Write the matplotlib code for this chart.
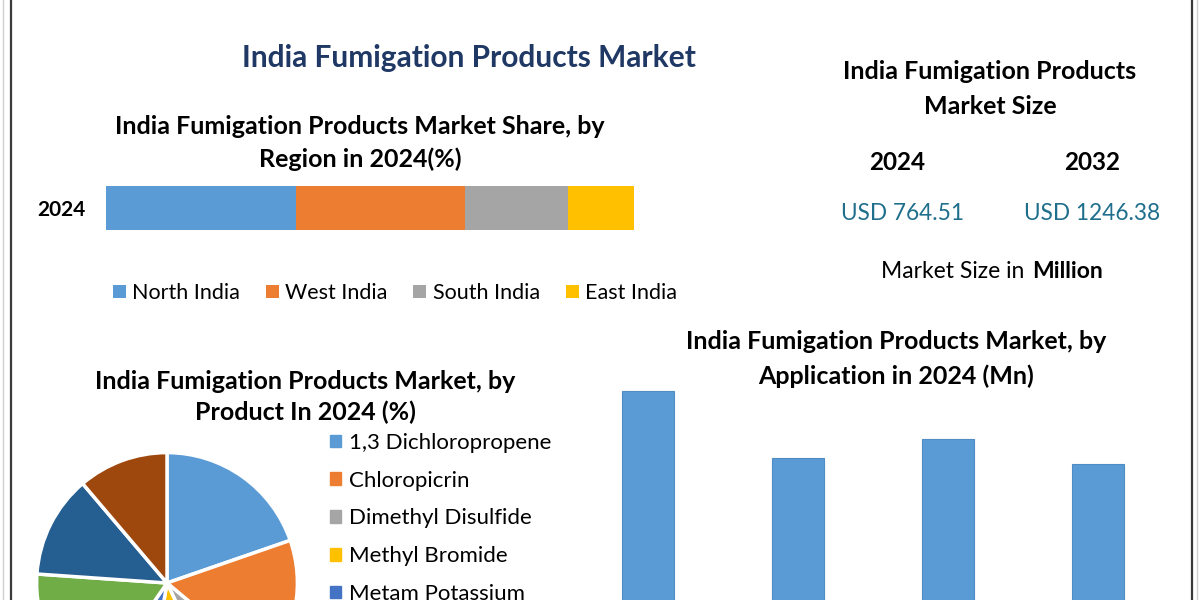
import numpy as np
import matplotlib
matplotlib.use('Agg')
import matplotlib.pyplot as plt
from matplotlib.lines import Line2D
from matplotlib.patches import Patch

plt.rcParams['font.family'] = ['Lato', 'DejaVu Sans']

# ── data ──────────────────────────────────────────────────
regions       = ['North India', 'West India', 'South India', 'East India']
region_share  = [36.0, 32.0, 19.5, 12.5]
region_colors = ['#5B9BD5', '#ED7D31', '#A5A5A5', '#FFC000']

products       = ['1,3 Dichloropropene', 'Chloropicrin', 'Dimethyl Disulfide',
                  'Methyl Bromide', 'Metam Potassium', 'Metam Sodium',
                  'Phosphine', 'Others']
product_share  = [19.7, 16.4, 6.9, 9.7, 6.9, 16.5, 12.7, 11.2]
product_colors = ['#5B9BD5', '#ED7D31', '#A5A5A5', '#FFC000',
                  '#4472C4', '#70AD47', '#255E91', '#9E480E']

apps       = ['App 1', 'App 2', 'App 3', 'App 4']
app_values = [235, 187, 201, 183]

years       = ['2024', '2032']
market_size = ['USD 764.51', 'USD 1246.38']

W, H = 1200, 600
fig = plt.figure(figsize=(12, 6), dpi=100)
fig.patch.set_facecolor('white')

def fx(x): return x / W
def fy(y): return 1 - y / H

# ── frame lines ───────────────────────────────────────────
for x, c, lw in [(11, '#3a3a3a', 1.6), (1192, '#3a3a3a', 1.6),
                 (3, '#d0d0d0', 1.0), (1197, '#d0d0d0', 1.0)]:
    fig.add_artist(Line2D([fx(x), fx(x)], [0, 1], color=c, lw=lw,
                          transform=fig.transFigure))

# ── titles ────────────────────────────────────────────────
fig.text(fx(469), fy(58), 'India Fumigation Products Market', ha='center',
         va='center', fontsize=21.5, fontweight='bold', color='#1F3864')
fig.text(fx(360), fy(143), 'India Fumigation Products Market Share, by\nRegion in 2024(%)',
         ha='center', va='center', fontsize=18, fontweight='bold',
         color='black', linespacing=1.45)

# ── stacked region bar ────────────────────────────────────
ax1 = fig.add_axes([fx(106), fy(246), 528 / W, 76 / H])
left = 0
for name, v, c in zip(regions, region_share, region_colors):
    ax1.barh(0, v, left=left, height=44 / 76, color=c, label=name)
    left += v
ax1.set_xlim(0, sum(region_share))
ax1.set_ylim(-0.5, 0.5)
ax1.set_yticks([0])
ax1.set_yticklabels(['2024'], fontsize=15, fontweight='bold')
ax1.tick_params(axis='y', length=0, pad=15)
ax1.set_xticks([])
for s in ax1.spines.values():
    s.set_visible(False)
ax1.legend(loc='center', bbox_to_anchor=(fx(395), fy(293)),
           bbox_transform=fig.transFigure, ncol=4, frameon=False,
           fontsize=15.5, handlelength=0.6, handleheight=0.6,
           handletextpad=0.3, columnspacing=1.2)

# ── market size panel ─────────────────────────────────────
fig.text(fx(990), fy(89), 'India Fumigation Products\nMarket Size', ha='center',
         va='center', fontsize=18, fontweight='bold', linespacing=1.6)
for x, yr, val in zip([897, 1092], years, market_size):
    fig.text(fx(x), fy(162), yr, ha='center', va='center', fontsize=17.5,
             fontweight='bold')
    fig.text(fx(x + 6 if yr == '2024' else x), fy(214), val, ha='center',
             va='center', fontsize=16.3, color='#1F6E8C')
fig.text(fx(1024), fy(271), 'Market Size in', ha='right', va='center',
         fontsize=16.5)
fig.text(fx(1032), fy(271), 'Million', ha='left', va='center', fontsize=16.5,
         fontweight='bold')

# ── application bars ──────────────────────────────────────
fig.text(fx(896), fy(359), 'India Fumigation Products Market, by\nApplication in 2024 (Mn)',
         ha='center', va='center', fontsize=18, fontweight='bold',
         linespacing=1.55)
ax2 = fig.add_axes([fx(573), fy(720), 600 / W, 340 / H])
ax2.bar(np.arange(len(apps)), app_values, width=0.353, color='#5B9BD5',
        edgecolor='#4f8cc4', linewidth=0.8)
ax2.set_xlim(-0.5, len(apps) - 0.5)
ax2.set_ylim(0, 243)
ax2.set_xticks([])
ax2.set_yticks([])
ax2.patch.set_alpha(0)
for s in ax2.spines.values():
    s.set_visible(False)

# ── product pie ───────────────────────────────────────────
fig.text(fx(305), fy(397), 'India Fumigation Products Market, by\nProduct In 2024 (%)',
         ha='center', va='center', fontsize=18, fontweight='bold',
         linespacing=1.4)
r = 133
ax3 = fig.add_axes([fx(167 - r), fy(583 + r), 2 * r / W, 2 * r / H])
wedges, _ = ax3.pie(product_share, colors=product_colors, startangle=90,
                    counterclock=False,
                    wedgeprops=dict(edgecolor='white', linewidth=2.5))
ax3.set_xlim(-1.02, 1.02)
ax3.set_ylim(-1.02, 1.02)
ax3.set_aspect('equal')
ax3.axis('off')

handles = [Patch(color=c) for c in product_colors[:5]]
fig.legend(handles, products[:5], loc='upper left',
           bbox_to_anchor=(fx(321), fy(424)), frameon=False, fontsize=16,
           handlelength=0.5, handleheight=0.5, handletextpad=0.35,
           labelspacing=0.8, borderaxespad=0)

fig.savefig('out.png', dpi=100)
